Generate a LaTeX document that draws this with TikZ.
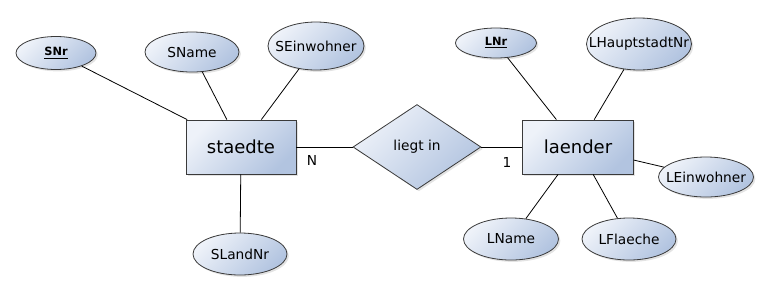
\documentclass[tikz,border=0pt]{standalone}
\usepackage{fontspec}
\setmainfont{DejaVu Sans}
\usepackage{xcolor}
\usepackage{tikz}
\usetikzlibrary{positioning, shapes, shadows}
\definecolor{erlight}{HTML}{EEF2F9}
\definecolor{erdark}{HTML}{B2C4E0}
\definecolor{erline}{HTML}{3A3A3A}
\tikzset{
  erbase/.style={draw=erline,line width=0.6pt,inner sep=0pt,
    top color=erlight,bottom color=erdark,shading angle=45,
    drop shadow={opacity=0.22,shadow xshift=1.4pt,shadow yshift=-1.4pt}},
  entnode/.style={erbase,rectangle,minimum width=82.5pt,minimum height=40.5pt,
    font=\fontsize{13.5}{16}\selectfont},
  attnode/.style={erbase,ellipse,inner sep=-40pt,font=\fontsize{10.3}{12}\selectfont},
  relnode/.style={erbase,diamond,minimum width=96pt,minimum height=63.75pt,
    font=\fontsize{10.3}{12}\selectfont},
  cardlbl/.style={inner sep=0pt,font=\fontsize{10.3}{12}\selectfont},
  erlink/.style={draw=black,line width=0.6pt},
}
\newcommand{\erkey}[1]{{\fontsize{8.5}{10}\selectfont\bfseries\underline{#1}}}

\begin{document}
\begin{tikzpicture}[x=0.75pt,y=-0.75pt]
  \useasboundingbox (0,0) rectangle (768,290);
  % entities and relation
  \node[entnode] (nStaedte) at (241,147) {staedte};
  \node[entnode,minimum width=83.25pt] (nLaender) at (578,147) {laender};
  \node[relnode] (nLiegt) at (417,147) {liegt in};
  % attributes of staedte
  \node[attnode,minimum width=60pt,minimum height=24.75pt] (nSNr) at (56,53) {\erkey{SNr}};
  \node[attnode,minimum width=70.5pt,minimum height=30pt] (nSName) at (192,52) {SName};
  \node[attnode,minimum width=72pt,minimum height=36pt] (nSEinw) at (316,46) {SEinwohner};
  \node[attnode,minimum width=70.5pt,minimum height=31.5pt] (nSLand) at (240,254) {SLandNr};
  % attributes of laender
  \node[attnode,minimum width=60.75pt,minimum height=22.5pt] (nLNr) at (496,43) {\erkey{LNr}};
  \node[attnode,minimum width=78.75pt,minimum height=39pt] (nLHaupt) at (639,44) {LHauptstadtNr};
  \node[attnode,minimum width=71.25pt,minimum height=30pt] (nLEinw) at (706,177) {LEinwohner};
  \node[attnode,minimum width=71.25pt,minimum height=31.5pt] (nLName) at (511,239) {LName};
  \node[attnode,minimum width=70.5pt,minimum height=31.5pt] (nLFlae) at (629,239) {LFlaeche};
  % cardinalities
  \node[cardlbl] (nCardN) at (312,160) {N};
  \node[cardlbl] (nCard1) at (507,162) {1};
  % links
  \draw[erlink] (nStaedte) -- (nLiegt);
  \draw[erlink] (nLiegt) -- (nLaender);
  \draw[erlink] (nSNr) -- (nStaedte);
  \draw[erlink] (nSName) -- (nStaedte);
  \draw[erlink] (nSEinw) -- (nStaedte);
  \draw[erlink] (nSLand) -- (nStaedte);
  \draw[erlink] (nLNr) -- (nLaender);
  \draw[erlink] (nLHaupt) -- (nLaender);
  \draw[erlink] (nLEinw) -- (nLaender);
  \draw[erlink] (nLName) -- (nLaender);
  \draw[erlink] (nLFlae) -- (nLaender);
\end{tikzpicture}
\end{document}
